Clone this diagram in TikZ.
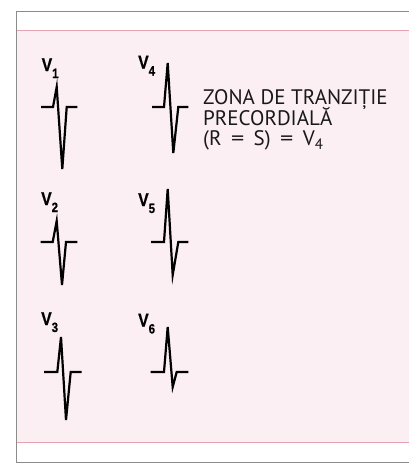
\documentclass[tikz,border=0pt]{standalone}
\usepackage{fontspec}
\setmainfont{PT Sans}
\newfontfamily\lblfont{Liberation Sans}[FakeBold=0.6]
\definecolor{pinkfill}{HTML}{FBEFF3}
\definecolor{pinkline}{HTML}{E3A3B3}
\definecolor{frame}{HTML}{8C8C8C}
\newcommand{\vlabel}[1]{\scalebox{0.85}[1]{\lblfont\bfseries\fontsize{18.5}{18.5}\selectfont V\raisebox{-7pt}{\fontsize{13.5}{13.5}\selectfont #1}}}
\newcommand{\eqs}{\hspace{0.45em}\scalebox{1.25}[1]{=}\hspace{0.45em}}
\tikzset{
  vlab/.style={anchor=base west, inner sep=0pt},
  txt/.style={anchor=base west, inner sep=0pt, font=\fontsize{21}{24}\selectfont, text=black!90},
  ecg/.style={line width=2.2pt, black}
}
\begin{document}
\begin{tikzpicture}[x=1pt,y=-1pt]
\clip (0,0) rectangle (409,464);
\useasboundingbox (0,0) rectangle (409,464);
\fill[white] (0,0) rectangle (409,464);
% frame and pink band
\fill[pinkfill] (16.5,30.5) rectangle (420,442.5);
\draw[pinkline, line width=0.9pt] (16.5,30.5) -- (420,30.5);
\draw[pinkline, line width=0.9pt] (16.5,442.5) -- (420,442.5);
\draw[frame, line width=1pt] (420,11) -- (16.5,11) -- (16.5,462) -- (420,462);
% labels
\node[vlab] (l1) at (41.5,71) {\vlabel{1}};
\node[vlab] (l4) at (138,68.5) {\vlabel{4}};
\node[vlab] (l2) at (41,205) {\vlabel{2}};
\node[vlab] (l5) at (138,206) {\vlabel{5}};
\node[vlab] (l3) at (41,325) {\vlabel{3}};
\node[vlab] (l6) at (138,326.5) {\vlabel{6}};
% waveforms
\draw[ecg] (41,107) -- (53,107) -- (56.7,87) -- (62.3,169) -- (66.7,107) -- (77.3,107);
\draw[ecg] (152,107) -- (164,107) -- (167.7,63) -- (173.3,153) -- (178.3,107) -- (188.3,107);
\draw[ecg] (40.7,242) -- (52.7,242) -- (56.7,221) -- (62,285) -- (66,242) -- (77.3,242);
\draw[ecg] (151,242) -- (164,242) -- (167.7,189) -- (172.7,275) -- (178.3,242) -- (188.3,242);
\draw[ecg] (44,372) -- (57.3,372) -- (61,337) -- (66,420) -- (70.7,372) -- (81.7,372);
\draw[ecg] (150.7,372) -- (164,372) -- (167.7,327) -- (172.7,387) -- (176.7,372) -- (188.3,372);
% text
\node[txt] (t1) at (203,104.5) {ZONA DE TRANZIȚIE};
\node[txt] (t2) at (203,125) {PRECORDIALĂ};
\node[txt] (t3) at (203,145) {(R\eqs S)\eqs V\raisebox{-4.5pt}{\fontsize{15}{15}\selectfont 4}};
\end{tikzpicture}
\end{document}
